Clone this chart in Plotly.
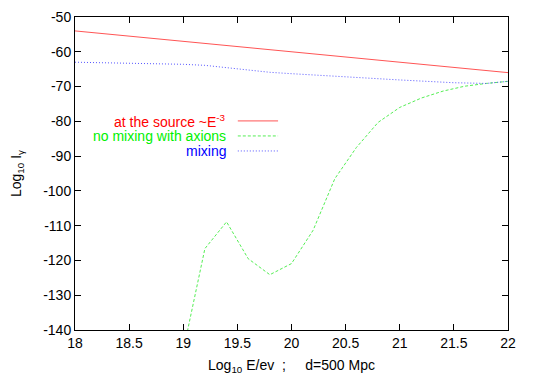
import plotly.graph_objects as go

# data
energy_src = [18, 22]
flux_src = [-54, -66]

energy_nomix = [19.0, 19.2, 19.4, 19.6, 19.8, 20.0, 20.2, 20.4, 20.6, 20.8,
                21.0, 21.2, 21.4, 21.6, 21.8, 22.0]
flux_nomix = [-146, -116.6, -108.9, -119.5, -124.1, -120.9, -111.3, -96.5, -87.5,
              -80.3, -76.0, -73.3, -71.3, -69.9, -69.1, -68.5]

energy_mix = [18.0, 18.5, 19.0, 19.2, 19.4, 19.6, 19.8, 20.0, 20.5, 21.0,
              21.5, 21.8, 22.0]
flux_mix = [-63.0, -63.2, -63.6, -63.9, -64.6, -65.3, -65.9, -66.3, -67.3,
            -68.1, -68.9, -69.1, -68.5]

x_ticks = [18, 18.5, 19, 19.5, 20, 20.5, 21, 21.5, 22]
y_ticks = [-50, -60, -70, -80, -90, -100, -110, -120, -130, -140]
y_ticktext = ["-50", "-60", "-70", "-80", "-90", "-100", "-110", "-120", "-130", "-140"]

labels = ["at the source ~E<sup>-3</sup>", "no mixing with axions", "mixing"]
text_colors = ["#ff0000", "#00f000", "#0000ff"]
line_colors = ["#ff5555", "#55ee55", "#5555ff"]
dashes = ["solid", "3px,2px", "1px,2px"]

fig = go.Figure()
series = [(energy_src, flux_src), (energy_nomix, flux_nomix), (energy_mix, flux_mix)]
for (x, y), c, d in zip(series, line_colors, dashes):
    fig.add_trace(go.Scatter(x=x, y=y, mode="lines", line=dict(color=c, width=1, dash=d),
                             showlegend=False, cliponaxis=True))

# gnuplot-style key: text on the left, sample on the right
key_y = [0.668, 0.62, 0.572]
for lab, tc, lc, d, ky in zip(labels, text_colors, line_colors, dashes, key_y):
    fig.add_annotation(x=0.353, y=ky, xref="paper", yref="paper", text=lab,
                       showarrow=False, xanchor="right", yanchor="middle",
                       font=dict(color=tc, size=14))
    fig.add_shape(type="line", xref="paper", yref="paper", x0=0.376, x1=0.469,
                  y0=ky, y1=ky, line=dict(color=lc, width=1, dash=d))

axis_common = dict(showgrid=False, zeroline=False, showline=True, linecolor="black",
                   linewidth=1, mirror="ticks", ticks="inside", ticklen=6,
                   tickcolor="black", tickfont=dict(size=14, color="black"),
                   automargin=False)

nb = "\u00a0"
fig.update_xaxes(range=[18, 22], tickvals=x_ticks, **axis_common,
                 title=dict(text="Log<sub>10</sub> E/ev" + nb * 2 + ";" + nb * 5 + "d=500 Mpc",
                            font=dict(size=14, color="black"), standoff=10))
fig.update_yaxes(range=[-140, -50], tickvals=y_ticks, ticktext=y_ticktext, **axis_common,
                 title=dict(text="Log<sub>10</sub> I<sub>γ</sub>",
                            font=dict(size=14, color="black"), standoff=20))

# the page body adds 8px at top/left, so margins are offset to keep the plot box in place
fig.update_layout(width=534, height=374, plot_bgcolor="white", paper_bgcolor="white",
                  font=dict(family="Liberation Sans, Arial, sans-serif"),
                  margin=dict(l=67, r=34, t=9, b=52))

fig.write_html("out.html")
